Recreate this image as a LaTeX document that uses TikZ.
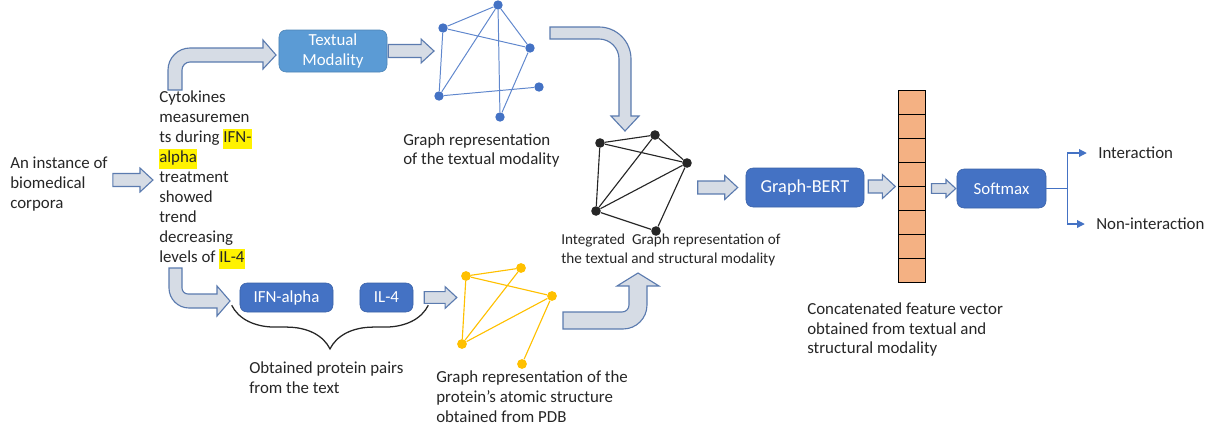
\documentclass[tikz,border=0pt]{standalone}
\usepackage{fontspec}
\setmainfont{Carlito}
\usetikzlibrary{calc,arrows.meta,decorations.pathreplacing,shapes.multipart}
\definecolor{arrbg}{HTML}{D6DCE5}
\definecolor{arrline}{HTML}{5B7BAF}
\definecolor{boxblue}{HTML}{4472C4}
\definecolor{boxlight}{HTML}{5B9BD5}
\definecolor{gold}{HTML}{FFC000}
\definecolor{vecfill}{HTML}{F4B183}
\definecolor{ink}{HTML}{262626}
\newcommand{\hlt}[1]{{\setlength{\fboxsep}{0pt}\colorbox{yellow}{\strut #1}}}
\begin{document}
\begin{tikzpicture}[x=0.025cm, y=-0.025cm,
  txt/.style={inner sep=0pt, align=left, text=ink, font=\fontsize{12}{14.2}\selectfont},
  smalltxt/.style={txt, font=\fontsize{10.8}{13}\selectfont},
  modal/.style={rounded corners=5pt, draw=boxblue!85!black, fill=boxblue, text=white, align=center,
    font=\fontsize{12}{14.2}\selectfont, minimum height=0.725cm, inner sep=0pt},
  fat/.style={draw=arrline, fill=arrbg, line width=0.8pt,
    to path={let \p1=(\tikztostart), \p2=(\tikztotarget) in
      (\x1,\y2+#1*4.6pt) -- (\x2-#1*9.2pt,\y2+#1*4.6pt) -- (\x2-#1*9.2pt,\y2+#1*8.5pt) -- (\x2,\y2)
      -- (\x2-#1*9.2pt,\y2-#1*8.5pt) -- (\x2-#1*9.2pt,\y2-#1*4.6pt) -- (\x1,\y2-#1*4.6pt) -- cycle}},
  fat/.default=1,
  bent/.style={draw=arrline, fill=arrbg, line width=0.8pt},
  tdot/.style={circle, fill=boxblue, inner sep=0pt, minimum size=0.235cm},
  sdot/.style={circle, fill=gold, inner sep=0pt, minimum size=0.245cm},
  gdot/.style={circle, fill=ink, inner sep=0pt, minimum size=0.24cm},
  tedge/.style={draw=boxblue!85!white, line width=0.7pt},
  sedge/.style={draw=gold, line width=0.8pt},
  gedge/.style={draw=ink, line width=0.8pt},
  branch/.style={draw=boxblue, line width=0.8pt, -{Triangle[length=5.5pt,width=5.5pt]}, shorten >=8pt}]
\useasboundingbox (0,0) rectangle (1219,430);

\node[txt, anchor=west] (corpus) at (10,184.5) {An instance of\\biomedical\\corpora};
\node[txt, anchor=west] (cyto) at (159,180) {Cytokines\\measuremen\\ts during \hlt{IFN-}\\\hlt{alpha}\\treatment\\showed\\trend\\decreasing\\levels of \hlt{IL-4}};

\node[modal, fill=boxlight, draw=boxlight!85!black, minimum width=2.7cm, minimum height=1.05cm] (textual) at (333,51) {Textual\\Modality};
\node[modal, minimum width=2.325cm] (ifn) at (286.5,297.5) {IFN-alpha};
\node[modal, minimum width=1.325cm] (il4) at (386.5,297.5) {IL-4};
\node[modal, minimum width=2.95cm, minimum height=0.975cm, font=\fontsize{13}{15}\selectfont] (bert) at (805,187.5) {Graph-BERT};
\node[modal, minimum width=2.225cm, minimum height=0.975cm] (soft) at (1001.5,188.5) {Softmax};
\node[rectangle split, rectangle split parts=8, draw=black, line width=0.9pt, fill=vecfill, inner sep=0pt,
  rectangle split empty part height=16.2pt, rectangle split empty part depth=0pt,
  rectangle split empty part width=14pt] (vec) at (912,186.5) {};

\node[tdot] (t1) at (498,5) {};
\node[tdot] (t2) at (443,28) {};
\node[tdot] (t3) at (530,48) {};
\node[tdot] (t4) at (439,96) {};
\node[tdot] (t5) at (539,87) {};
\node[tdot] (t6) at (500,117) {};
\draw[tedge] (t1) -- (t2) (t1) -- (t3) (t1) -- (t4) (t1) -- (t6) (t2) -- (t3) (t2) -- (t4) (t3) -- (t6) (t4) -- (t5);

\node[sdot] (s1) at (466,276) {};
\node[sdot] (s2) at (521,268) {};
\node[sdot] (s3) at (552,296) {};
\node[sdot] (s4) at (462,344) {};
\node[sdot] (s5) at (522,364) {};
\draw[sedge] (s1) -- (s2) (s1) -- (s3) (s1) -- (s4) (s2) -- (s4) (s3) -- (s4) (s3) -- (s5);

\node[gdot] (g1) at (600,143) {};
\node[gdot] (g2) at (655,135) {};
\node[gdot] (g3) at (687,163) {};
\node[gdot] (g4) at (596,211) {};
\node[gdot] (g5) at (656,231) {};
\draw[gedge] (g1) -- (g2) (g1) -- (g3) (g1) -- (g4) (g2) -- (g4) (g2) -- (g3) (g3) -- (g4) (g3) -- (g5) (g4) -- (g5);

\node[txt, anchor=west] (tlabel) at (403,150.5) {Graph representation\\of the textual modality};
\node[smalltxt, anchor=west] (glabel) at (561,250) {Integrated\ \ Graph representation of\\the textual and structural modality};
\node[txt, anchor=west] (slabel) at (436,396.5) {Graph representation of the\\protein’s atomic structure\\obtained from PDB};
\node[txt, anchor=west] (plabel) at (249,377.5) {Obtained protein pairs\\from the text};
\node[txt, anchor=west] (vlabel) at (807,329.5) {Concatenated feature vector\\obtained from textual and\\structural modality};
\node[txt, anchor=west] (inter) at (1098,153) {Interaction};
\node[txt, anchor=west] (noninter) at (1096,224) {Non-interaction};

\draw[fat] ([xshift=3.5pt]corpus.east) to ([xshift=-4.3pt]cyto.west);
\draw[fat] ([xshift=0.7pt]textual.east) to (t4.west |- textual.east);
\draw[fat=0.9] ([xshift=7.8pt]il4.east) to (s4.west |- il4.east);
\draw[fat] ([xshift=4pt]g3.east) to ([xshift=-5.7pt]bert.west);
\draw[fat] ([xshift=2.8pt]bert.east) to ([xshift=-2pt]vec.west);
\draw[fat=0.75] ([xshift=4pt]vec.east) to ([xshift=-0.7pt]soft.west);

\draw[bent] (168,90) -- (168,70) .. controls (168,57.9) and (177.9,48) .. (190,48) -- (263,48) -- (263,40) -- (276,55)
  -- (263,69) -- (263,62) -- (190,62) .. controls (185.6,62) and (182,65.6) .. (182,70) -- (182,90) -- cycle;
\draw[bent] (169,268) -- (169,288) .. controls (169,299) and (178,308) .. (189,308) -- (217,308) -- (217,316) -- (230,301)
  -- (217,286) -- (217,294) -- (188,294) .. controls (184.7,294) and (182,291.3) .. (182,288) -- (182,268) -- cycle;
\draw[bent] (550,27) -- (599,27) .. controls (616.7,27) and (631,41.3) .. (631,59) -- (631,116) -- (639,116) -- (625,131)
  -- (611,116) -- (619,116) -- (619,59) .. controls (619,48) and (610,39) .. (599,39) -- (550,39) -- cycle;
\draw[bent] (563,312) -- (622,312) .. controls (625.9,312) and (629,308.9) .. (629,305) -- (629,286) -- (617,286) -- (638,273)
  -- (659,286) -- (647,286) -- (647,305) .. controls (647,318.3) and (636.3,329) .. (623,329) -- (563,329) -- cycle;

\draw[draw=ink, line width=0.9pt, decorate, decoration={brace, mirror, amplitude=31pt}]
  ([shift={(-8,-7)}]ifn.south west) -- ([shift={(15,-7)}]il4.south east);

\coordinate (fork) at ([xshift=15pt]soft.east);
\draw[boxblue, line width=0.8pt] (soft.east) -- (fork);
\draw[branch] (fork) |- (inter.west);
\draw[branch] (fork) |- (noninter.west);
\end{tikzpicture}
\end{document}
